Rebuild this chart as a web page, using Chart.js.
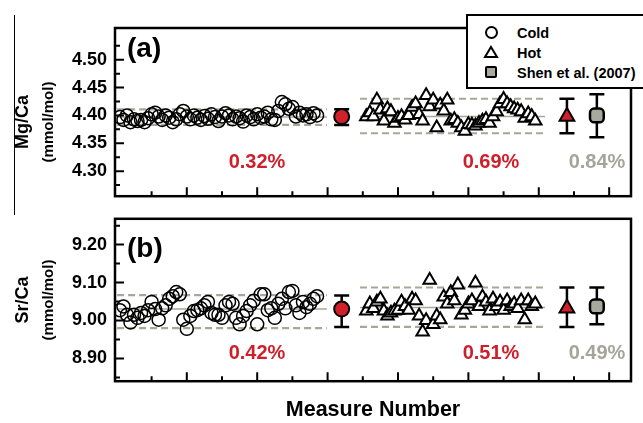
<!DOCTYPE html>
<html>
<head>
<meta charset="utf-8">
<script src="https://cdn.jsdelivr.net/npm/chart.js@4.4.1/dist/chart.umd.min.js"></script>
<style>
    body { margin: 0; background: #fff; font-family: Arial, "Liberation Sans", sans-serif; }
    #wrap { position: relative; width: 643px; height: 423px; overflow: hidden; }
    canvas { position: absolute; left: 0; }
    .t { position: absolute; font-weight: bold; white-space: nowrap; line-height: 1; }
    .rot { transform: translate(-50%, -50%) rotate(-90deg); }
    .ctr { transform: translate(-50%, -50%); }
    .red { color: #cf1f2b; }
    .grey { color: #a5a599; }
    #legend { position: absolute; left: 466px; top: 14px; width: 200px; height: 71px; border: 2.5px solid #000; background: #fff; }
    #legend .row { position: absolute; left: 0; width: 200px; height: 18px; font-size: 14.5px; font-weight: bold; white-space: nowrap; }
    #legend .row span { position: absolute; left: 49px; top: 1px; }
</style>
</head>
<body>
<div id="wrap">
    <canvas id="mgChart" width="643" height="215" style="top:0"></canvas>
    <canvas id="srChart" width="643" height="200" style="top:200px"></canvas>

    <div style="position:absolute;left:14px;top:15px;width:1px;height:200px;background:#000"></div>

    <div class="t rot" style="left:22px;top:122px;font-size:18px">Mg/Ca</div>
    <div class="t rot" style="left:47px;top:122px;font-size:15px">(mmol/mol)</div>
    <div class="t rot" style="left:22px;top:300px;font-size:18px">Sr/Ca</div>
    <div class="t rot" style="left:47px;top:300px;font-size:15px">(mmol/mol)</div>
    <div class="t ctr" style="left:373px;top:410px;font-size:21.5px">Measure Number</div>

    <div class="t" style="left:127px;top:34px;font-size:28px">(a)</div>
    <div class="t" style="left:127px;top:234px;font-size:28px">(b)</div>

    <div class="t ctr red" style="left:257px;top:161px;font-size:20px">0.32%</div>
    <div class="t ctr red" style="left:491px;top:161px;font-size:20px">0.69%</div>
    <div class="t ctr grey" style="left:597px;top:161px;font-size:20px">0.84%</div>
    <div class="t ctr red" style="left:257px;top:352px;font-size:20px">0.42%</div>
    <div class="t ctr red" style="left:491px;top:352px;font-size:20px">0.51%</div>
    <div class="t ctr grey" style="left:597px;top:352px;font-size:20px">0.49%</div>

    <div id="legend">
        <div class="row" style="top:8px">
            <div style="position:absolute;left:17px;top:2px;width:9px;height:9px;border:2px solid #000;border-radius:50%"></div>
            <span>Cold</span>
        </div>
        <div class="row" style="top:28px">
            <svg style="position:absolute;left:15px;top:1px" width="16" height="14"><polygon points="8,2 14,12 2,12" fill="#fff" stroke="#000" stroke-width="2"/></svg>
            <span>Hot</span>
        </div>
        <div class="row" style="top:48px">
            <div style="position:absolute;left:17px;top:2px;width:8px;height:8px;border:2.5px solid #000;border-radius:2px;background:#a8a89c"></div>
            <span>Shen et al. (2007)</span>
        </div>
    </div>
</div>

<script>
// measure numbers: cold run starts at 1, hot run starts at 71
const coldStart = 1;
const hotStart = 71;

const coldMg = [
    4.397, 4.392, 4.400, 4.388, 4.393, 4.390, 4.392, 4.388, 4.395, 4.402,
    4.405, 4.398, 4.392, 4.400, 4.396, 4.388, 4.393, 4.402, 4.408, 4.398,
    4.393, 4.400, 4.396, 4.392, 4.399, 4.394, 4.402, 4.397, 4.390, 4.398,
    4.404, 4.400, 4.393, 4.398, 4.395, 4.389, 4.400, 4.397, 4.393, 4.402,
    4.396, 4.398, 4.405, 4.393, 4.392, 4.408, 4.424, 4.420, 4.412, 4.415,
    4.398, 4.405, 4.400, 4.402, 4.397, 4.404, 4.400,
];
const hotMg = [
    4.398, 4.405, 4.398, 4.428, 4.410, 4.390, 4.412, 4.407, 4.386, 4.395,
    4.398, 4.392, 4.400, 4.415, 4.421, 4.402, 4.390, 4.436, 4.416, 4.428,
    4.378, 4.419, 4.408, 4.428, 4.390, 4.393, 4.386, 4.378, 4.372, 4.384,
    4.383, 4.381, 4.386, 4.390, 4.393, 4.386, 4.398, 4.407, 4.421, 4.429,
    4.421, 4.416, 4.412, 4.410, 4.407, 4.395, 4.403, 4.398, 4.390,
];
const coldSr = [
    9.027, 9.037, 9.015, 8.995, 9.015, 9.007, 9.020, 9.012, 9.027, 9.049,
    9.030, 9.002, 9.032, 9.040, 9.057, 9.064, 9.075, 9.069, 9.002, 8.978,
    9.012, 9.025, 9.027, 9.032, 9.040, 9.049, 9.020, 9.015, 9.015, 9.007,
    9.040, 9.049, 9.044, 9.007, 8.990, 9.012, 9.025, 9.040, 9.052, 8.990,
    9.069, 9.069, 9.027, 9.032, 9.007, 9.044, 9.057, 9.032, 9.075, 9.078,
    9.040, 9.020, 9.049, 9.035, 9.044, 9.057, 9.064,
];
const hotSr = [
    9.025, 9.044, 9.032, 9.049, 9.057, 9.025, 9.012, 9.020, 9.025, 9.027,
    9.049, 9.037, 9.027, 9.057, 9.052, 9.012, 8.970, 9.000, 9.106, 8.990,
    9.012, 9.002, 9.062, 9.044, 9.074, 9.052, 9.094, 9.015, 9.027, 9.044,
    9.052, 9.099, 9.037, 9.062, 9.049, 9.025, 9.057, 9.037, 9.049, 9.027,
    9.052, 9.037, 9.044, 9.032, 9.052, 9.002, 9.052, 9.037, 9.044,
];

// summary markers: cold mean, hot mean, Shen et al. (2007)
const summaryMeasure = [64, 128, 136.5];
const mgMean = [4.398, 4.398, 4.400];
const mgLow = [4.383, 4.368, 4.361];
const mgHigh = [4.411, 4.430, 4.438];
const srMean = [9.030, 9.032, 9.037];
const srLow = [8.983, 8.983, 8.990];
const srHigh = [9.066, 9.087, 9.087];

// mean and 2 sigma lines drawn across each run: [low, mean, high]
const coldSpan = [0.2, 59.8];
const hotSpan = [69.2, 121.8];
const coldMgBand = [4.383, 4.397, 4.411];
const hotMgBand = [4.368, 4.398, 4.430];
const coldSrBand = [8.980, 9.030, 9.067];
const hotSrBand = [8.983, 9.034, 9.087];

// axes
const xRange = [-0.4, 146.2];
const xMajor = [20, 40, 60, 80, 100, 120, 140];
const xMinor = [10, 30, 50, 70, 90, 110, 130];
const mgRange = [4.255, 4.557];
const mgTicks = [4.30, 4.35, 4.40, 4.45, 4.50];
const mgMinor = [4.275, 4.325, 4.375, 4.425, 4.475, 4.525];
const srRange = [8.840, 9.268];
const srTicks = [8.90, 9.00, 9.10, 9.20];
const srMinor = [8.85, 8.95, 9.05, 9.15, 9.25];

const BAND_GREY = '#a6a699';
const RED = '#d0202a';

const frame = {
    id: 'frame',
    afterDatasetsDraw(chart, args, opts) {
        const { ctx, chartArea: a, scales: { x, y } } = chart;
        ctx.save();
        ctx.strokeStyle = '#000';
        ctx.lineWidth = 2;
        ctx.beginPath();
        const tick = (list, len) => list.forEach(v => {
            const p = y.getPixelForValue(v);
            ctx.moveTo(a.left, p);
            ctx.lineTo(a.left + len, p);
        });
        tick(opts.major, 9);
        tick(opts.minor, 5);
        xMajor.forEach(v => {
            const p = x.getPixelForValue(v);
            ctx.moveTo(p, a.bottom);
            ctx.lineTo(p, a.bottom - 9);
        });
        xMinor.forEach(v => {
            const p = x.getPixelForValue(v);
            ctx.moveTo(p, a.bottom);
            ctx.lineTo(p, a.bottom - 5);
        });
        ctx.stroke();
        ctx.lineWidth = 2.5;
        ctx.strokeRect(a.left, a.top, a.right - a.left, a.bottom - a.top);
        ctx.restore();
    }
};

const runPoints = (values, start) => values.map((v, i) => ({ x: start + i, y: v }));

const bandSets = (band, span) => band.map((v, i) => ({
    type: 'line',
    data: [{ x: span[0], y: v }, { x: span[1], y: v }],
    borderColor: BAND_GREY,
    borderWidth: i === 1 ? 1.5 : 2.2,
    borderDash: i === 1 ? [] : [7, 4],
    pointRadius: 0,
    order: 10,
}));

const errorSets = (low, high) => summaryMeasure.map((m, i) => ({
    type: 'line',
    data: [{ x: m, y: low[i] }, { x: m, y: high[i] }],
    borderColor: '#000',
    borderWidth: 2.5,
    pointStyle: 'line',
    pointRadius: 7.5,
    pointBorderWidth: 2.5,
    pointBorderColor: '#000',
    order: 2,
}));

const buildConfig = (cold, hot, mean, low, high, coldBand, hotBand, range, ticks, minor, padTop) => ({
    type: 'scatter',
    data: {
        datasets: [
            {
                data: runPoints(cold, coldStart),
                pointStyle: 'circle',
                pointRadius: 6.5,
                borderColor: '#000',
                borderWidth: 1.5,
                backgroundColor: 'rgba(255,255,255,0)',
                order: 3,
            },
            {
                data: runPoints(hot, hotStart),
                pointStyle: 'triangle',
                pointRadius: 7.2,
                borderColor: '#000',
                borderWidth: 2,
                backgroundColor: '#fff',
                order: 3,
            },
            ...bandSets(coldBand, coldSpan),
            ...bandSets(hotBand, hotSpan),
            ...errorSets(low, high),
            {
                data: [{ x: summaryMeasure[0], y: mean[0] }],
                pointStyle: 'circle', pointRadius: 7.5,
                backgroundColor: RED, borderColor: '#000', borderWidth: 2, order: 1,
            },
            {
                data: [{ x: summaryMeasure[1], y: mean[1] }],
                pointStyle: 'triangle', pointRadius: 8.5,
                backgroundColor: RED, borderColor: '#000', borderWidth: 2, order: 1,
            },
            {
                data: [{ x: summaryMeasure[2], y: mean[2] }],
                pointStyle: 'rectRounded', pointRadius: 8,
                backgroundColor: '#a8a89c', borderColor: '#000', borderWidth: 2.5, order: 1,
            },
        ],
    },
    options: {
        responsive: false,
        animation: false,
        events: [],
        layout: { padding: { top: padTop, bottom: 12, left: 0, right: 12 } },
        plugins: {
            legend: { display: false },
            tooltip: { enabled: false },
            frame: { major: ticks, minor: minor },
        },
        scales: {
            x: { type: 'linear', display: false, min: xRange[0], max: xRange[1] },
            y: {
                min: range[0],
                max: range[1],
                grid: { display: false, drawTicks: false },
                border: { display: false },
                afterBuildTicks: (scale) => { scale.ticks = ticks.map(v => ({ value: v })); },
                afterFit: (scale) => { scale.width = 115; },
                ticks: {
                    padding: 8,
                    color: '#000',
                    font: { family: 'Arial, "Liberation Sans", sans-serif', size: 18, weight: 'bold' },
                    callback: (v) => Number(v).toFixed(2),
                },
            },
        },
    },
    plugins: [frame],
});

new Chart(document.getElementById('mgChart'),
    buildConfig(coldMg, hotMg, mgMean, mgLow, mgHigh, coldMgBand, hotMgBand, mgRange, mgTicks, mgMinor, 28));
new Chart(document.getElementById('srChart'),
    buildConfig(coldSr, hotSr, srMean, srLow, srHigh, coldSrBand, hotSrBand, srRange, srTicks, srMinor, 13));
</script>
</body>
</html>
